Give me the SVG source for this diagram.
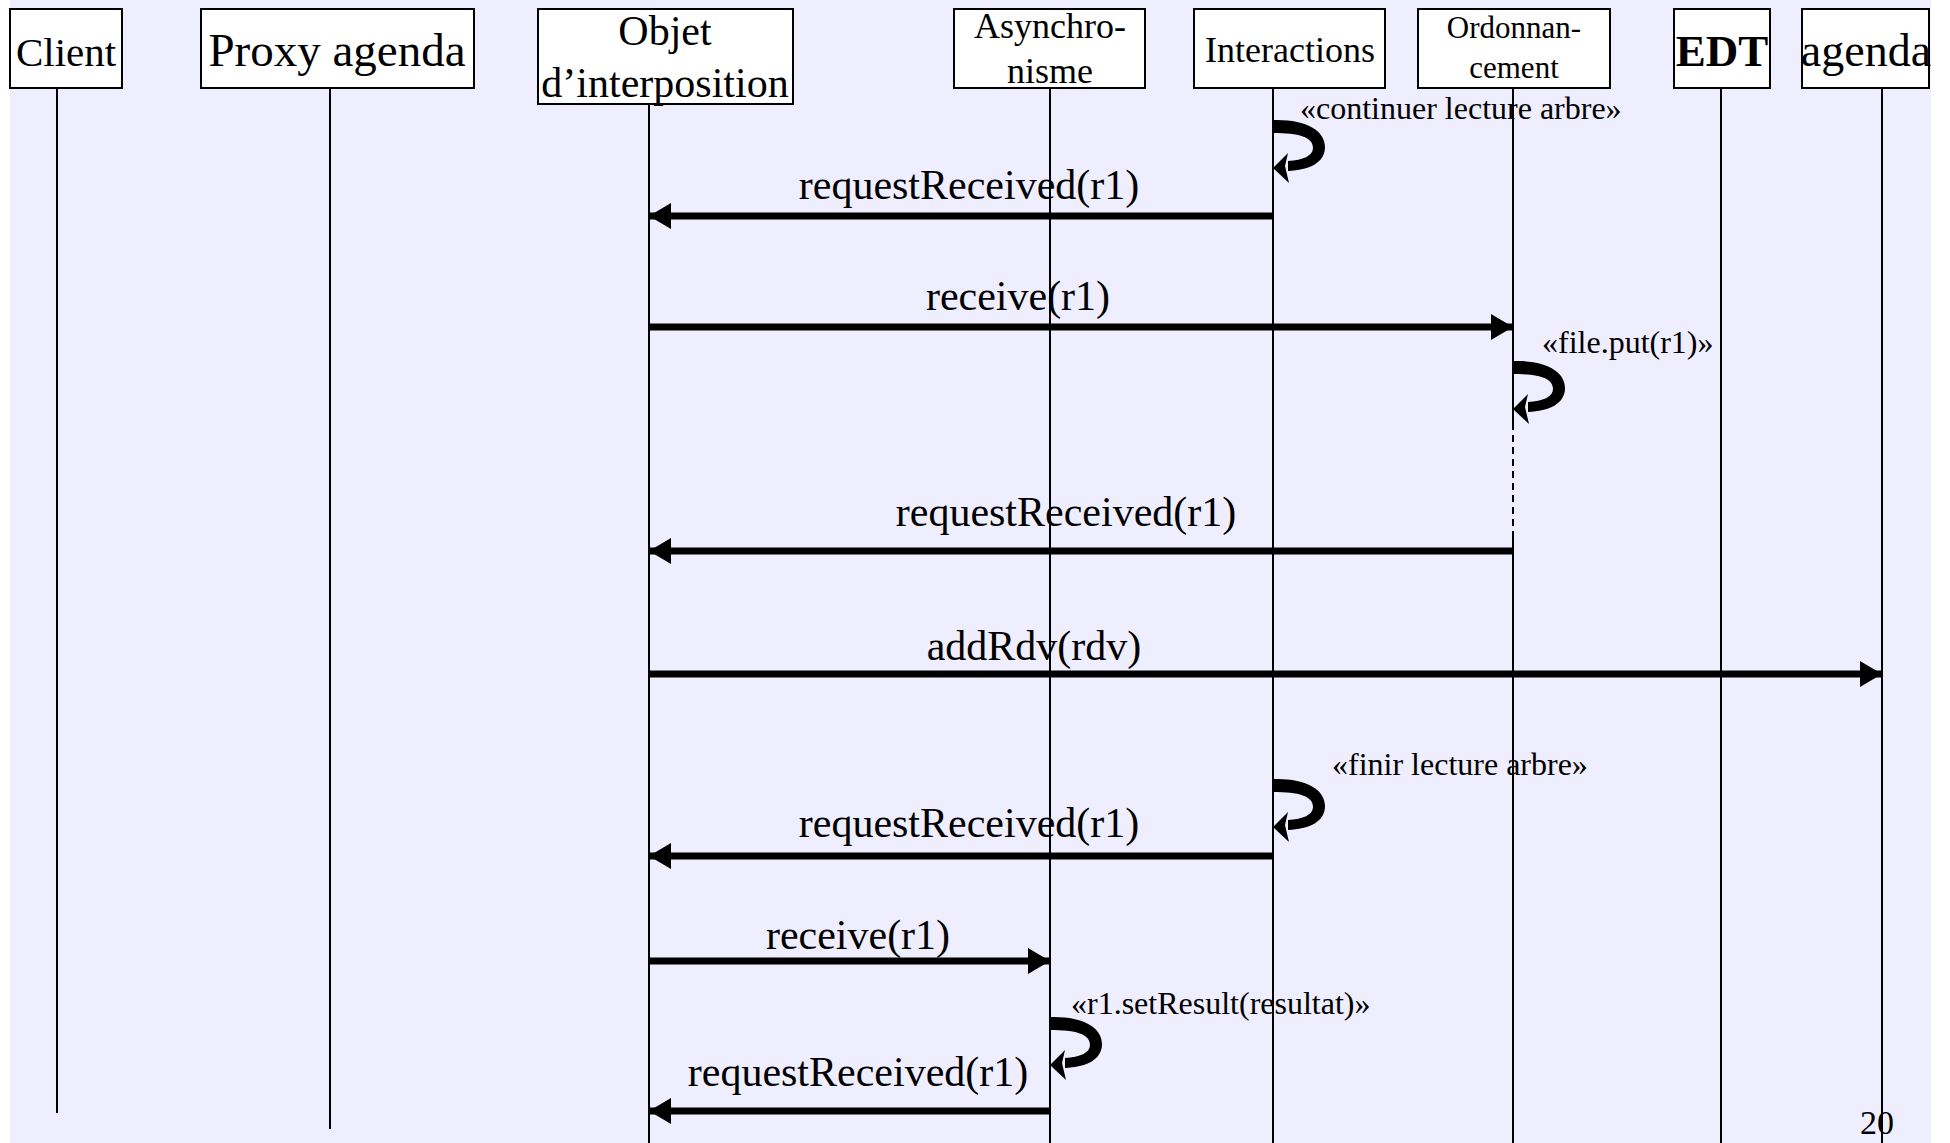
<svg xmlns="http://www.w3.org/2000/svg" width="1950" height="1143" viewBox="0 0 1950 1143">
<style>
.box{fill:#fff;stroke:#000;stroke-width:2}
.life{stroke:#000;stroke-width:2;fill:none}
.t{font-family:"Liberation Serif","Times New Roman",serif;fill:#000;text-anchor:middle}
.hd{font-size:42px}
.hs{font-size:36px}
.hx{font-size:31px}
.msg{font-size:42px}
.ann{font-family:"Liberation Serif","Times New Roman",serif;fill:#000;font-size:32px}
.arr{stroke:#000;stroke-width:7;fill:none;marker-end:url(#ah)}
</style>
<defs>
<marker id="ah" markerUnits="userSpaceOnUse" markerWidth="24" markerHeight="26" refX="22" refY="13" orient="auto">
<path d="M0,0 L22,13 L0,26 Z" fill="#000"/>
</marker>
<g id="loop">
<path d="M0,0 C32,-1 52,10 52,27 C52,43 36,50 15,51 L15,41 C30,40 40,36 40,28 C40,17 26,13 0,13 Z" fill="#000"/>
<path d="M0,48 L15,33 L12,46 L16,63 Z" fill="#000"/>
</g>
</defs>
<rect x="10" y="0" width="1921" height="1143" fill="#EEEEFF"/>
<g id="lifelines">
<line class="life" x1="57" y1="88" x2="57" y2="1113"/>
<line class="life" x1="330" y1="88" x2="330" y2="1129"/>
<line class="life" x1="649" y1="104" x2="649" y2="1143"/>
<line class="life" x1="1050" y1="88" x2="1050" y2="1143"/>
<line class="life" x1="1273" y1="88" x2="1273" y2="1143"/>
<line class="life" x1="1513" y1="88" x2="1513" y2="423"/>
<line class="life" x1="1513" y1="423" x2="1513" y2="537" stroke-dasharray="7,5"/>
<line class="life" x1="1513" y1="537" x2="1513" y2="1143"/>
<line class="life" x1="1721" y1="88" x2="1721" y2="1143"/>
<line class="life" x1="1882" y1="88" x2="1882" y2="1143"/>
</g>
<g id="n-client"><rect class="box" x="10" y="9" width="112" height="79"/><text class="t" style="font-size:41px" x="66" y="66">Client</text></g>
<g id="n-proxy"><rect class="box" x="201" y="9" width="273" height="79"/><text class="t" style="font-size:47px" x="337" y="66">Proxy agenda</text></g>
<g id="n-objet"><rect class="box" x="538" y="9" width="255" height="95"/><text class="t hd" x="665" y="45">Objet</text><text class="t hd" x="665" y="97">d’interposition</text></g>
<g id="n-async"><rect class="box" x="954" y="9" width="191" height="79"/><text class="t hs" x="1050" y="38">Asynchro-</text><text class="t hs" x="1050" y="83">nisme</text></g>
<g id="n-inter"><rect class="box" x="1194" y="9" width="191" height="79"/><text class="t hs" x="1290" y="62">Interactions</text></g>
<g id="n-ordo"><rect class="box" x="1418" y="9" width="192" height="79"/><text class="t hx" x="1514" y="38">Ordonnan-</text><text class="t hx" x="1514" y="78">cement</text></g>
<g id="n-edt"><rect class="box" x="1674" y="9" width="96" height="79"/><text class="t" style="font-size:45px;font-weight:bold" x="1722" y="66">EDT</text></g>
<g id="n-agenda"><rect class="box" x="1802" y="9" width="127" height="79"/><text class="t" style="font-size:46px" x="1866" y="66">agenda</text></g>
<g id="connectors">
<use href="#loop" x="1273" y="120"/>
<line class="arr" x1="1273" y1="216" x2="649" y2="216"/>
<line class="arr" x1="649" y1="327" x2="1513" y2="327"/>
<use href="#loop" x="1513" y="361"/>
<line class="arr" x1="1513" y1="551" x2="649" y2="551"/>
<line class="arr" x1="649" y1="674" x2="1882" y2="674"/>
<use href="#loop" x="1273" y="779"/>
<line class="arr" x1="1273" y1="856" x2="649" y2="856"/>
<line class="arr" x1="649" y1="961" x2="1050" y2="961"/>
<use href="#loop" x="1050" y="1017"/>
<line class="arr" x1="1050" y1="1111" x2="649" y2="1111"/>
</g>
<g id="labels">
<text class="ann" x="1300" y="119">«continuer lecture arbre»</text>
<text class="t msg" x="969" y="199">requestReceived(r1)</text>
<text class="t msg" x="1018" y="310">receive(r1)</text>
<text class="ann" x="1542" y="353">«file.put(r1)»</text>
<text class="t msg" x="1066" y="526">requestReceived(r1)</text>
<text class="t msg" x="1034" y="660">addRdv(rdv)</text>
<text class="ann" x="1332" y="775">«finir lecture arbre»</text>
<text class="t msg" x="969" y="837">requestReceived(r1)</text>
<text class="t msg" x="858" y="949">receive(r1)</text>
<text class="ann" x="1071" y="1014">«r1.setResult(resultat)»</text>
<text class="t msg" x="858" y="1086">requestReceived(r1)</text>
<text class="t" style="font-size:34px" x="1877" y="1134">20</text>
</g>
</svg>
